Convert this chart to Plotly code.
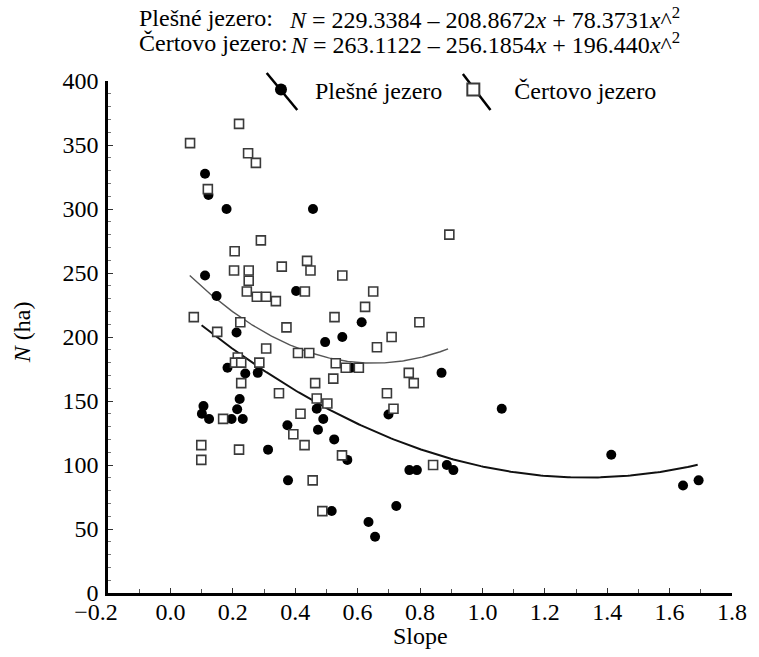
import numpy as np
import plotly.graph_objects as go

# ---- data ----
plesne_slope = [0.111, 0.122, 0.180, 0.457, 0.111, 0.148, 0.403, 0.613, 0.551, 0.496,
                0.212, 0.183, 0.240, 0.280, 0.580, 0.869, 0.222, 0.106, 0.214, 0.101,
                0.124, 0.196, 0.232, 0.469, 0.699, 0.490, 0.375, 0.473, 0.525, 0.313,
                0.567, 0.766, 0.790, 0.886, 0.907, 0.377, 0.724, 0.517, 0.635, 0.656,
                1.062, 1.413, 1.643, 1.693]
plesne_n = [327.5, 311.0, 300.0, 300.0, 248.0, 232.0, 236.0, 211.5, 200.0, 196.0,
            203.5, 176.0, 171.5, 172.0, 176.0, 172.0, 151.5, 146.0, 143.5, 140.0,
            136.0, 136.0, 136.0, 144.0, 139.5, 136.0, 131.0, 127.5, 120.0, 112.0,
            104.0, 96.0, 96.0, 100.0, 96.0, 88.0, 68.0, 64.0, 55.5, 44.0,
            144.0, 108.0, 84.0, 88.0]

certovo_slope = [0.220, 0.063, 0.249, 0.274, 0.120, 0.290, 0.894, 0.206, 0.204, 0.251,
                 0.357, 0.438, 0.449, 0.551, 0.251, 0.245, 0.277, 0.307, 0.338, 0.431,
                 0.650, 0.624, 0.075, 0.224, 0.526, 0.798, 0.372, 0.150, 0.709, 0.662,
                 0.307, 0.409, 0.445, 0.216, 0.207, 0.227, 0.285, 0.530, 0.562, 0.604,
                 0.764, 0.227, 0.780, 0.522, 0.464, 0.348, 0.694, 0.469, 0.503, 0.715,
                 0.417, 0.169, 0.394, 0.430, 0.099, 0.220, 0.550, 0.099, 0.842, 0.456,
                 0.487]
certovo_n = [366.5, 351.5, 343.5, 336.0, 315.5, 275.5, 280.0, 267.0, 252.0, 252.0,
             255.0, 259.5, 252.0, 248.0, 244.0, 235.5, 231.5, 231.5, 228.0, 235.5,
             235.5, 223.5, 215.5, 211.5, 215.5, 211.5, 207.5, 204.0, 200.0, 192.0,
             191.0, 187.5, 187.5, 184.0, 180.0, 180.0, 180.0, 179.5, 176.0, 176.0,
             172.0, 164.0, 164.0, 167.5, 164.0, 156.0, 156.0, 152.0, 148.0, 144.0,
             140.0, 136.0, 124.0, 115.5, 115.5, 112.0, 107.5, 104.0, 100.0, 88.0,
             64.0]

# quadratic fit coefficients shown in the chart header
plesne_coef = [229.3384, -208.8672, 78.3731]
certovo_coef = [263.1122, -256.1854, 196.440]
plesne_fit_span = [0.10, 1.69]
certovo_fit_span = [0.062, 0.89]

x_ticks = [-0.2, 0.0, 0.2, 0.4, 0.6, 0.8, 1.0, 1.2, 1.4, 1.6, 1.8]
x_tick_labels = ["−0.2\u00a0\u00a0\u00a0\u00a0", "0.0", "0.2", "0.4", "0.6", "0.8",
                 "1.0", "1.2", "1.4", "1.6", "1.8"]
y_ticks = [0, 50, 100, 150, 200, 250, 300, 350, 400]

FONT = "Liberation Serif"
FS = 24


def fit_curve(coef, span):
    xs = np.linspace(span[0], span[1], 200)
    ys = coef[0] + coef[1] * xs + coef[2] * xs ** 2
    return xs, ys


fig = go.Figure()

px_, py_ = fit_curve(plesne_coef, plesne_fit_span)
cx_, cy_ = fit_curve(certovo_coef, certovo_fit_span)
fig.add_trace(go.Scatter(x=px_, y=py_, mode="lines", showlegend=False,
                         line=dict(color="#111111", width=2), hoverinfo="skip"))
fig.add_trace(go.Scatter(x=cx_, y=cy_, mode="lines", showlegend=False,
                         line=dict(color="#555555", width=1.4), hoverinfo="skip"))

fig.add_trace(go.Scatter(x=plesne_slope, y=plesne_n, mode="markers", name="Plešné jezero",
                         legend="legend",
                         marker=dict(symbol="circle", size=10, color="black",
                                     line=dict(width=0))))
fig.add_trace(go.Scatter(x=certovo_slope, y=certovo_n, mode="markers", name="Čertovo jezero",
                         legend="legend2",
                         marker=dict(symbol="square", size=9, color="white",
                                     line=dict(width=1.6, color="#3a3a3a"))))

W, H = 759, 657
L, R, T, B = 108, 18, 81, 64
pw, ph = W - L - R, H - T - B


def paper_x(px):
    return (px - L) / pw


def paper_y(py):
    return (H - B - py) / ph


annotations = [
    dict(text="Plešné jezero:", x=paper_x(137), y=paper_y(18), xanchor="left", yanchor="middle"),
    dict(text="<i>N</i> = 229.3384 – 208.8672<i>x</i> + 78.3731<i>x</i>^<sup>2</sup>",
         x=paper_x(690), y=paper_y(18), xanchor="right", yanchor="middle"),
    dict(text="Čertovo jezero:", x=paper_x(137), y=paper_y(43), xanchor="left", yanchor="middle"),
    dict(text="<i>N</i> = 263.1122 – 256.1854<i>x</i> + 196.440<i>x</i>^<sup>2</sup>",
         x=paper_x(690), y=paper_y(43), xanchor="right", yanchor="middle"),
    dict(text="Slope", x=0.5, y=paper_y(636), xanchor="center", yanchor="middle"),
    dict(text="<i>N</i> (ha)", x=paper_x(21), y=paper_y(332), xanchor="center", yanchor="middle",
         textangle=-90),
]
for a in annotations:
    a.update(xref="paper", yref="paper", showarrow=False, font=dict(family=FONT, size=FS, color="black"))

shapes = [
    dict(type="line", xref="paper", yref="paper", x0=paper_x(269), y0=paper_y(73),
         x1=paper_x(300), y1=paper_y(110), line=dict(color="black", width=2.5)),
    dict(type="line", xref="paper", yref="paper", x0=paper_x(468), y0=paper_y(74),
         x1=paper_x(496), y1=paper_y(110), line=dict(color="black", width=2.5)),
]

legend_common = dict(orientation="h", yanchor="middle", xanchor="left", y=paper_y(90),
                     bgcolor="rgba(0,0,0,0)", borderwidth=0,
                     font=dict(family=FONT, size=FS, color="black"), itemsizing="constant")

fig.update_layout(
    width=W, height=H,
    margin=dict(l=L, r=R, t=T, b=B),
    paper_bgcolor="white", plot_bgcolor="white",
    font=dict(family=FONT, size=FS, color="black"),
    annotations=annotations,
    shapes=shapes,
    legend=dict(legend_common, x=paper_x(249), itemwidth=58),
    legend2=dict(legend_common, x=paper_x(437), itemwidth=72),
    xaxis=dict(range=[-0.2, 1.8], tickvals=x_ticks, ticktext=x_tick_labels, showgrid=False,
               zeroline=False, showline=True, linecolor="black", linewidth=2.5,
               ticks="inside", ticklen=5, tickwidth=1.2, tickcolor="#333",
               minor=dict(dtick=0.1, tick0=-0.2, ticks="inside", ticklen=4, tickwidth=1, tickcolor="#555"),
               ticklabelstandoff=-5),
    yaxis=dict(range=[0, 400], tickvals=y_ticks, showgrid=False, zeroline=False,
               showline=True, linecolor="black", linewidth=2.5,
               ticks="inside", ticklen=5, tickwidth=1.2, tickcolor="#333",
               minor=dict(dtick=10, tick0=0, ticks="inside", ticklen=3, tickwidth=1, tickcolor="#777"),
               ticklabelstandoff=2),
)

fig.write_html("out.html", post_script="document.body.style.margin='0px';",
               config={"displayModeBar": False})
